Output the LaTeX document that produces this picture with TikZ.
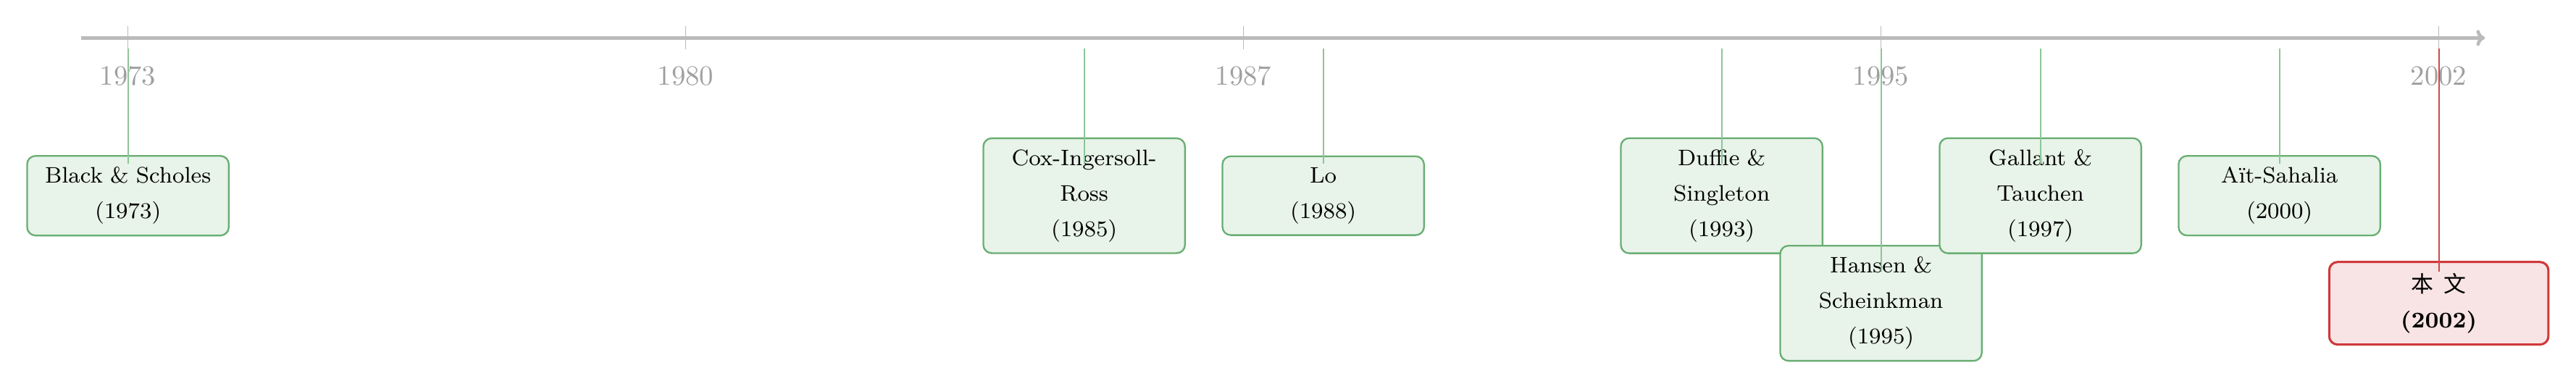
\documentclass[tikz,border=0pt]{standalone}
\usepackage{fontspec}
\newfontfamily\cjk{Noto Sans CJK SC}
\usetikzlibrary{arrows.meta}

\definecolor{ejegris}{RGB}{187,187,187}
\definecolor{etiqgris}{RGB}{160,160,160}
\definecolor{verdeborde}{RGB}{104,174,114}
\definecolor{verdefondo}{RGB}{232,243,233}
\definecolor{verdelinea}{RGB}{140,198,152}
\definecolor{rojoborde}{RGB}{208,56,58}
\definecolor{rojolinea}{RGB}{206,72,72}
\definecolor{rojofondo}{RGB}{248,228,229}

\tikzset{
  evento/.style={draw=verdeborde, fill=verdefondo, semithick, rounded corners=3pt,
    align=center, text width=2.25cm, inner sep=4pt, font=\fontsize{8}{12.7}\selectfont},
  esteartic/.style={evento, draw=rojoborde, fill=rojofondo, thick, text width=2.47cm},
  hilo/.style={verdelinea, line width=0.5pt},
  hilorojo/.style={rojolinea, line width=0.5pt},
  anio/.style={text=etiqgris, font=\normalsize},
}

\begin{document}
\begin{tikzpicture}
  \useasboundingbox (-1.606,-4.405) rectangle (30.722,0.476);
  % el eje del tiempo
  \coordinate (ini) at (-0.59,0);
  \coordinate (fin) at (29.58,0);
  \draw[ejegris, very thick, -{Computer Modern Rightarrow[length=3.1pt,width=5.7pt]}] (ini) -- (fin);
  \foreach \yr in {1973,1980,1987,1995,2002} {
    \draw[ejegris, thin] (\yr-1973,0.15) -- (\yr-1973,-0.14);
    \node[anio] (a\yr) at (\yr-1973,-0.48) {\yr};
  }
  % los trabajos anteriores, en orden
  \foreach \nom/\yr/\fila/\txt in {bs/1973/-1.98/{Black \& Scholes\\(1973)},
      cir/1985/-1.98/{Cox-Ingersoll-\\Ross\\(1985)},
      lo/1988/-1.98/{Lo\\(1988)},
      ds/1993/-1.98/{Duffie \&\\Singleton\\(1993)},
      hs/1995/-3.33/{Hansen \&\\Scheinkman\\(1995)},
      gt/1997/-1.98/{Gallant \&\\Tauchen\\(1997)},
      as/2000/-1.98/{A\"it-Sahalia\\(2000)}} {
    \node[evento] (\nom) at (\yr-1973,\fila) {\txt};
    \coordinate (h\nom) at (\yr-1973,-0.13);
    \draw[hilo] (h\nom) -- ([yshift=4mm]\nom.center);
  }
  % este trabajo
  \node[esteartic] (este) at (29,-3.33) {{\cjk 本\hspace{0.45em}文}\\\textbf{(2002)}};
  \coordinate (heste) at (29,-0.13);
  \draw[hilorojo] (heste) -- ([yshift=4mm]este.center);
\end{tikzpicture}
\end{document}
